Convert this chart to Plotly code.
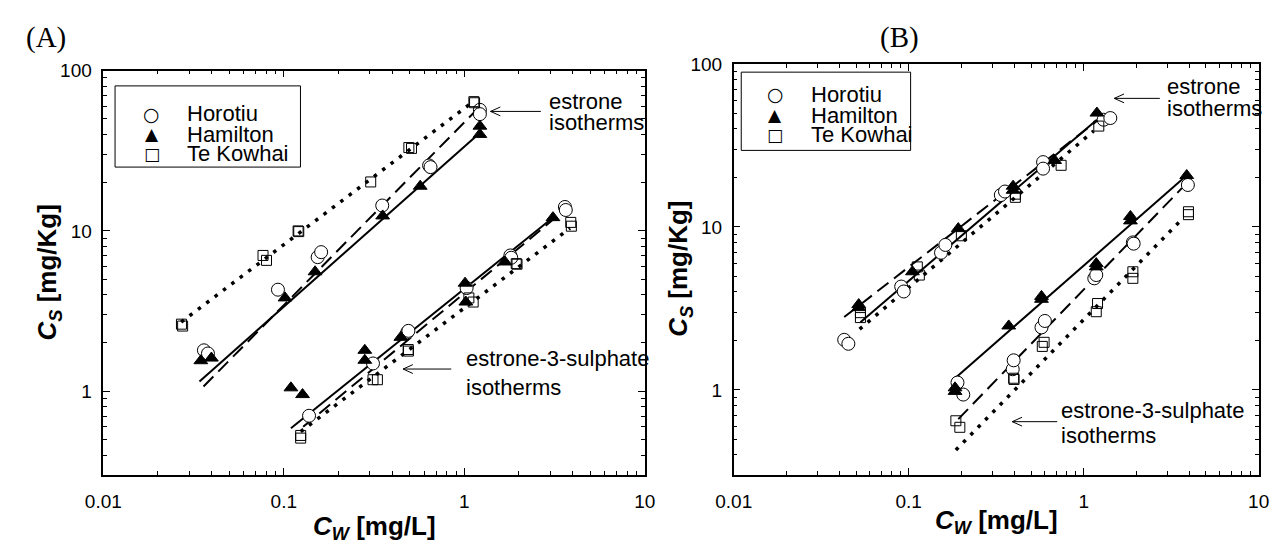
import plotly.graph_objects as go

W, H = 1281, 549

# ---------------- Panel A data (estrone E1, estrone-3-sulphate E1S) ----------------
a_e1_horotiu_x = [0.0361, 0.038, 0.0928, 0.154, 0.161, 0.351, 0.638, 0.65, 1.22, 1.22]
a_e1_horotiu_y = [1.80, 1.72, 4.30, 6.86, 7.37, 14.4, 25.6, 25.0, 56.9, 53.5]
a_e1_hamilton_x = [0.0347, 0.0397, 0.1016, 0.149, 0.353, 0.57, 1.22, 1.22]
a_e1_hamilton_y = [1.55, 1.61, 3.82, 5.56, 12.4, 19.0, 45.0, 40.0]
a_e1_tekowhai_x = [0.0271, 0.0275, 0.0767, 0.0802, 0.120, 0.121, 0.303, 0.493, 0.51, 1.13, 1.14]
a_e1_tekowhai_y = [2.62, 2.55, 7.03, 6.55, 10.0, 9.9, 20.2, 33.1, 32.7, 64.0, 63.0]

a_e1s_horotiu_x = [0.138, 0.312, 0.483, 0.49, 1.03, 1.80, 1.82, 3.61, 3.65]
a_e1s_horotiu_y = [0.703, 1.49, 2.33, 2.38, 4.40, 7.03, 6.80, 14.1, 13.5]
a_e1s_hamilton_x = [0.1095, 0.127, 0.281, 0.281, 0.445, 1.01, 1.02, 1.68, 3.10]
a_e1s_hamilton_y = [1.05, 0.953, 1.80, 1.56, 2.17, 4.72, 3.60, 6.40, 12.1]
a_e1s_tekowhai_x = [0.124, 0.124, 0.312, 0.33, 0.489, 0.49, 1.06, 1.12, 1.94, 1.96, 3.89, 3.92]
a_e1s_tekowhai_y = [0.53, 0.51, 1.18, 1.18, 1.82, 1.78, 3.82, 3.60, 6.25, 6.20, 11.3, 10.7]

# fitted isotherm lines (end points)
a_fit_e1_horotiu_x = [0.0359, 1.18]
a_fit_e1_horotiu_y = [1.07, 57.4]
a_fit_e1_hamilton_x = [0.0341, 1.24]
a_fit_e1_hamilton_y = [1.15, 41.6]
a_fit_e1_tekowhai_x = [0.027, 1.09]
a_fit_e1_tekowhai_y = [2.7, 62.5]
a_fit_e1s_horotiu_x = [0.128, 3.6]
a_fit_e1s_horotiu_y = [0.60, 13.5]
a_fit_e1s_hamilton_x = [0.1095, 3.18]
a_fit_e1s_hamilton_y = [0.588, 12.4]
a_fit_e1s_tekowhai_x = [0.124, 3.85]
a_fit_e1s_tekowhai_y = [0.56, 10.4]

# ---------------- Panel B data ----------------
b_e1_horotiu_x = [0.0428, 0.0452, 0.0906, 0.0937, 0.153, 0.162, 0.336, 0.355, 0.586, 0.586, 1.30, 1.42]
b_e1_horotiu_y = [2.03, 1.92, 4.31, 4.02, 6.95, 7.76, 15.7, 16.5, 25.0, 22.8, 45.5, 46.6]
b_e1_hamilton_x = [0.0518, 0.0518, 0.105, 0.192, 0.395, 0.395, 0.682, 1.19]
b_e1_hamilton_y = [3.34, 3.20, 5.31, 9.77, 17.8, 16.8, 25.6, 50.0]
b_e1_tekowhai_x = [0.053, 0.053, 0.112, 0.115, 0.20, 0.407, 0.407, 0.743, 1.22]
b_e1_tekowhai_y = [2.78, 2.98, 5.69, 5.07, 8.83, 15.9, 15.2, 23.9, 41.6]

b_e1s_horotiu_x = [0.19, 0.205, 0.393, 0.398, 0.574, 0.60, 1.15, 1.18, 1.91, 1.93, 3.94]
b_e1s_horotiu_y = [1.11, 0.937, 1.34, 1.52, 2.42, 2.65, 4.84, 5.07, 8.04, 7.90, 18.1]
b_e1s_hamilton_x = [0.184, 0.184, 0.373, 0.574, 0.574, 1.18, 1.18, 1.85, 1.85, 3.88]
b_e1s_hamilton_y = [1.03, 0.98, 2.47, 3.75, 3.60, 5.96, 5.69, 11.6, 10.9, 20.7]
b_e1s_tekowhai_x = [0.186, 0.196, 0.398, 0.40, 0.58, 0.594, 1.18, 1.20, 1.91, 1.91, 3.97, 3.97]
b_e1s_tekowhai_y = [0.647, 0.59, 1.18, 1.16, 1.85, 1.96, 3.02, 3.39, 4.84, 5.31, 11.9, 12.4]

b_fit_e1_horotiu_x = [0.0428, 1.2]
b_fit_e1_horotiu_y = [2.8, 45.0]
b_fit_e1_hamilton_x = [0.053, 1.19]
b_fit_e1_hamilton_y = [2.6, 45.5]
b_fit_e1_tekowhai_x = [0.0524, 1.14]
b_fit_e1_tekowhai_y = [2.36, 38.8]
b_fit_e1s_horotiu_x = [0.192, 3.64]
b_fit_e1s_horotiu_y = [0.662, 17.3]
b_fit_e1s_hamilton_x = [0.184, 3.80]
b_fit_e1s_hamilton_y = [1.18, 20.3]
b_fit_e1s_tekowhai_x = [0.186, 3.72]
b_fit_e1s_tekowhai_y = [0.428, 11.4]

# ---------------- axes ticks / labels ----------------
x_tickvals = [0.01, 0.1, 1, 10]
x_ticktext = ["0.01", "0.1", "1", "10"]
y_tickvals = [1, 10, 100]
y_ticktext = ["1", "10", "100"]

soils = ["Horotiu", "Hamilton", "Te Kowhai"]
legend_glyphs = ["\u25CB", "\u25B2", "\u25A1"]

FONT = "Liberation Sans, Arial, sans-serif"
SERIF = "Liberation Serif, Times New Roman, serif"

marker_style = {
    "Horotiu": dict(symbol="circle", size=13, color="white", line=dict(color="black", width=1)),
    "Hamilton": dict(symbol="triangle-up", size=12, color="black", line=dict(color="black", width=1)),
    "Te Kowhai": dict(symbol="square-open", size=10, color="black", line=dict(color="black", width=1)),
}
line_style = {
    "Horotiu": dict(color="black", width=2, dash="14px,7px"),
    "Hamilton": dict(color="black", width=2),
    "Te Kowhai": dict(color="black", width=3.5, dash="3.5px,7px"),
}

panels = {
    "A": dict(xa="x", ya="y",
              fits={"Horotiu": [(a_fit_e1_horotiu_x, a_fit_e1_horotiu_y), (a_fit_e1s_horotiu_x, a_fit_e1s_horotiu_y)],
                    "Hamilton": [(a_fit_e1_hamilton_x, a_fit_e1_hamilton_y), (a_fit_e1s_hamilton_x, a_fit_e1s_hamilton_y)],
                    "Te Kowhai": [(a_fit_e1_tekowhai_x, a_fit_e1_tekowhai_y), (a_fit_e1s_tekowhai_x, a_fit_e1s_tekowhai_y)]},
              pts={"Horotiu": (a_e1_horotiu_x + a_e1s_horotiu_x, a_e1_horotiu_y + a_e1s_horotiu_y),
                   "Hamilton": (a_e1_hamilton_x + a_e1s_hamilton_x, a_e1_hamilton_y + a_e1s_hamilton_y),
                   "Te Kowhai": (a_e1_tekowhai_x + a_e1s_tekowhai_x, a_e1_tekowhai_y + a_e1s_tekowhai_y)}),
    "B": dict(xa="x2", ya="y2",
              fits={"Horotiu": [(b_fit_e1_horotiu_x, b_fit_e1_horotiu_y), (b_fit_e1s_horotiu_x, b_fit_e1s_horotiu_y)],
                    "Hamilton": [(b_fit_e1_hamilton_x, b_fit_e1_hamilton_y), (b_fit_e1s_hamilton_x, b_fit_e1s_hamilton_y)],
                    "Te Kowhai": [(b_fit_e1_tekowhai_x, b_fit_e1_tekowhai_y), (b_fit_e1s_tekowhai_x, b_fit_e1s_tekowhai_y)]},
              pts={"Horotiu": (b_e1_horotiu_x + b_e1s_horotiu_x, b_e1_horotiu_y + b_e1s_horotiu_y),
                   "Hamilton": (b_e1_hamilton_x + b_e1s_hamilton_x, b_e1_hamilton_y + b_e1s_hamilton_y),
                   "Te Kowhai": (b_e1_tekowhai_x + b_e1s_tekowhai_x, b_e1_tekowhai_y + b_e1s_tekowhai_y)}),
}

fig = go.Figure()
for key, p in panels.items():
    for s in soils:
        for fx, fy in p["fits"][s]:
            fig.add_trace(go.Scatter(x=fx, y=fy, mode="lines", line=line_style[s],
                                     xaxis=p["xa"], yaxis=p["ya"], showlegend=False, hoverinfo="skip"))
    for s in soils:
        px_, py_ = p["pts"][s]
        fig.add_trace(go.Scatter(x=px_, y=py_, mode="markers", marker=marker_style[s], name=s,
                                 xaxis=p["xa"], yaxis=p["ya"], showlegend=False))

minor_vals = [k * 10 ** e for e in range(-3, 3) for k in range(2, 10)]

def axis_common(tv, tt, rng, standoff):
    return dict(type="log", range=rng,
                tickmode="array", tickvals=tv, ticktext=tt,
                ticks="inside", ticklen=7, tickwidth=1, tickcolor="black",
                minor=dict(tickmode="array", tickvals=minor_vals, ticks="inside", ticklen=4,
                           tickwidth=1, tickcolor="black", showgrid=False),
                showline=True, linecolor="black", linewidth=1.5, mirror="ticks",
                showgrid=False, zeroline=False, ticklabelstandoff=standoff,
                tickfont=dict(family=FONT, size=19, color="black"))

def P(px, py):
    return px / W, 1 - py / H

ann = []
shapes = []

def text(px, py, t, size=22, family=FONT, xanchor="left", angle=0):
    x, y = P(px, py)
    ann.append(dict(x=x, y=y, xref="paper", yref="paper", text=t, showarrow=False,
                    xanchor=xanchor, yanchor="middle", align="left", textangle=angle,
                    font=dict(family=family, size=size, color="black")))

def seg(x0, y0, x1, y1, w=1):
    a0, b0 = P(x0, y0)
    a1, b1 = P(x1, y1)
    shapes.append(dict(type="line", xref="paper", yref="paper", x0=a0, y0=b0, x1=a1, y1=b1,
                       line=dict(color="black", width=w)))

def arrow(hx, hy, tx):
    seg(hx, hy, tx, hy)
    seg(hx, hy, hx + 10, hy - 4.5)
    seg(hx, hy, hx + 10, hy + 4.5)

def legend_box(x0, y0, x1, y1, sym_x, txt_x, rows):
    a0, b0 = P(x0, y0)
    a1, b1 = P(x1, y1)
    shapes.append(dict(type="rect", xref="paper", yref="paper", x0=a0, y0=b1, x1=a1, y1=b0,
                       line=dict(color="black", width=1), fillcolor="white", layer="above"))
    gsize = [19, 17, 17]
    for s, g, gs, ry in zip(soils, legend_glyphs, gsize, rows):
        text(sym_x, ry, g, size=gs, family="DejaVu Sans", xanchor="center")
        text(txt_x, ry, s, size=22)

# panel labels
text(6, 28, "(A)", size=29, family=SERIF)
text(902, 28, "(B)", size=29, family=SERIF, xanchor="center")

# legends
legend_box(99.3, 77.3, 289, 160, 136.7, 171, [105.5, 126.5, 146.5])
legend_box(740, 63.3, 913.3, 143, 775, 809, [86, 107, 127])

# isotherm labels with arrows
text(541, 93, "estrone")
text(541, 115, "isotherms")
arrow(483.5, 103.3, 535)
text(456.7, 355, "estrone-3-sulphate")
text(456.7, 385, "isotherms")
arrow(394, 365.7, 443.3)

text(1173.3, 78, "estrone")
text(1173.3, 100, "isotherms")
arrow(1121.7, 90, 1168.3)
text(1065, 408.3, "estrone-3-sulphate")
text(1065, 433.3, "isotherms")
arrow(1017.3, 419.3, 1063.3)

# axis titles
ytitle = "<b><i>C</i><sub><i>S</i></sub> [mg/Kg]</b>"
xtitle = "<b><i>C</i><sub><i>W</i></sub> [mg/L]</b>"
text(31, 267, ytitle, size=26, xanchor="center", angle=-90)
text(364.3, 527, xtitle, size=26, xanchor="center")
text(677, 264, ytitle, size=26, xanchor="center", angle=-90)
text(1001, 521, xtitle, size=26, xanchor="center")

fig.update_layout(
    width=W, height=H, margin=dict(l=0, r=0, t=0, b=0),
    paper_bgcolor="white", plot_bgcolor="white", showlegend=False,
    xaxis=dict(domain=[87.3 / W, 641.3 / W], anchor="y", **axis_common(x_tickvals, x_ticktext, [-2, 1], 8)),
    yaxis=dict(domain=[1 - 473.7 / H, 1 - 61.7 / H], anchor="x", **axis_common(y_tickvals, y_ticktext, [-0.5229, 2], 6)),
    xaxis2=dict(domain=[732.3 / W, 1269.4 / W], anchor="y2", **axis_common(x_tickvals, x_ticktext, [-2, 1], 8)),
    yaxis2=dict(domain=[1 - 473.8 / H, 1 - 55 / H], anchor="x2", **axis_common(y_tickvals, y_ticktext, [-0.5229, 2], 6)),
    annotations=ann,
    shapes=shapes,
    font=dict(family=FONT, color="black"),
)

fig.write_html("out.html", config={"displayModeBar": False},
               post_script="document.body.style.margin='0px';document.documentElement.style.overflow='hidden';")
